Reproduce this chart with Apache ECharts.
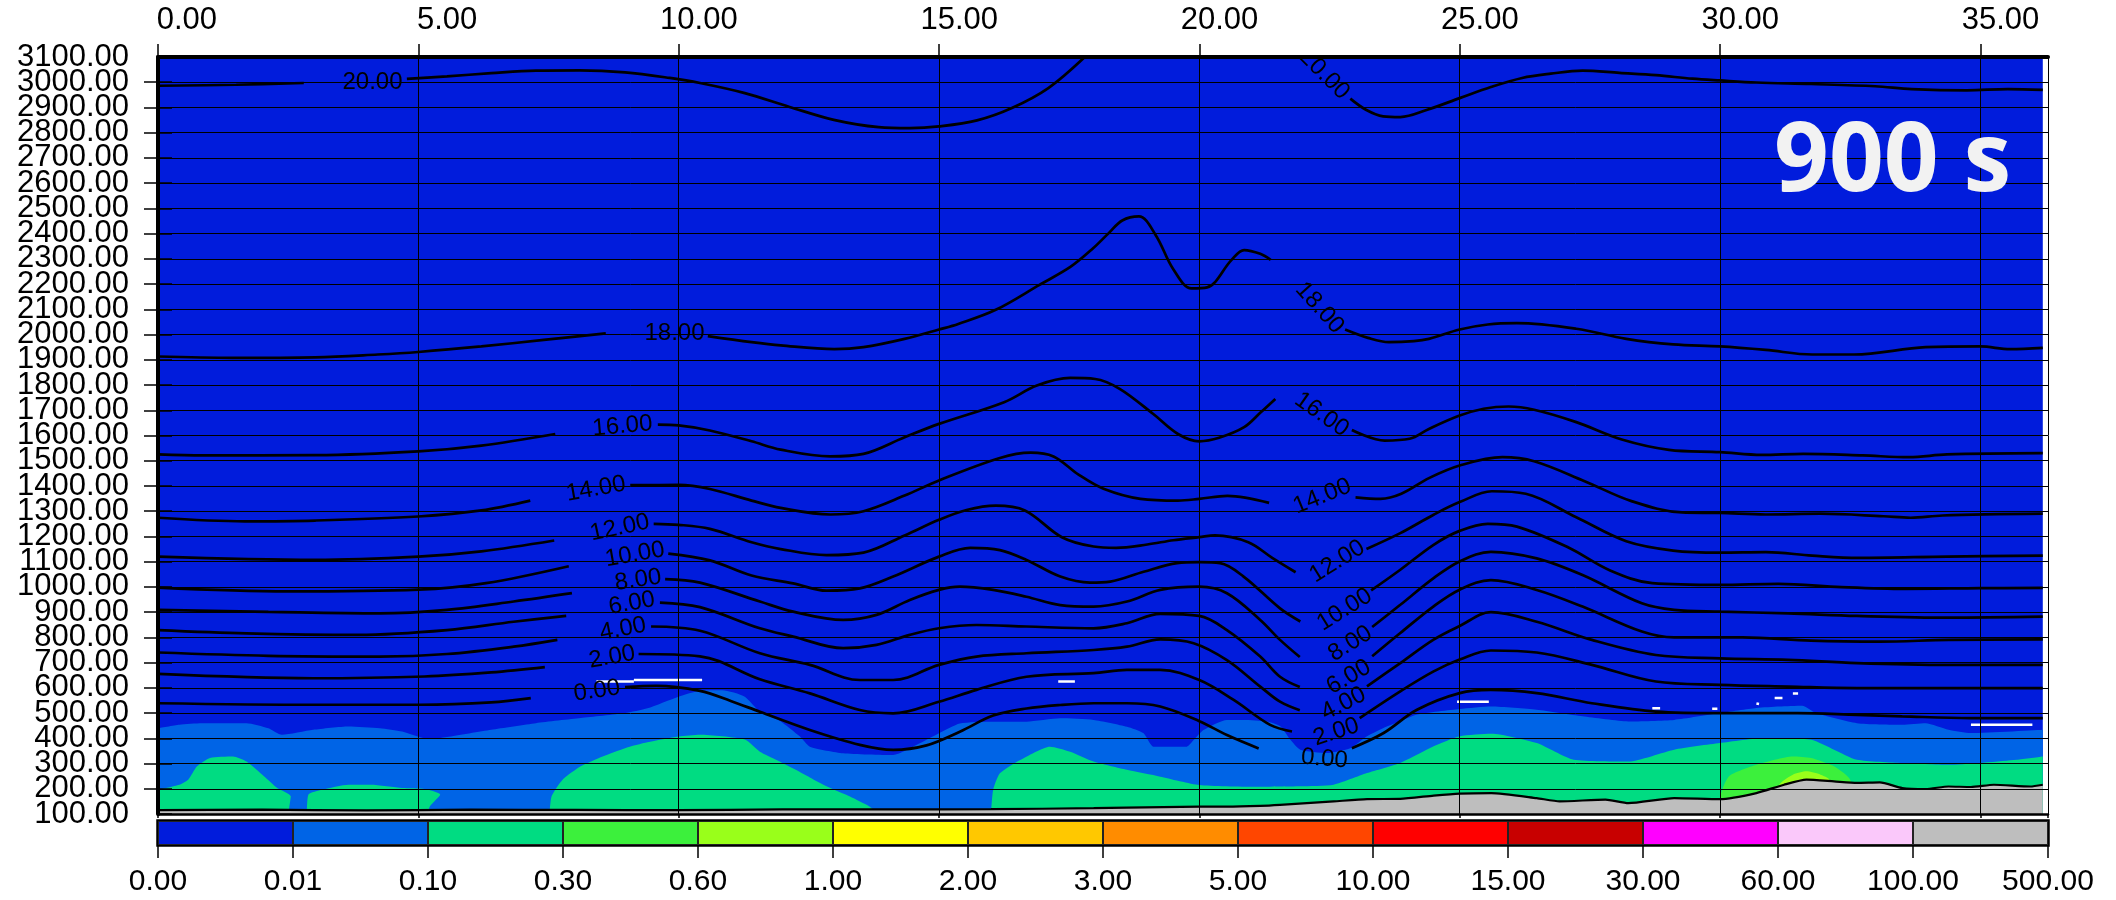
<!DOCTYPE html>
<html><head><meta charset="utf-8">
<script src="https://cdn.jsdelivr.net/npm/echarts@6/dist/echarts.min.js"></script>
<style>html,body{margin:0;padding:0;background:#fff}#c{width:2116px;height:900px}</style>
</head><body><div id="c"></div>
<script>
// ---------- colour bar ----------
const cbColors = ['#011CDC','#0064E6','#00DC82','#3CF03C','#99FF1A','#FFFF00','#FFC800','#FF8C00','#FF4600','#FF0000','#C80000','#FF00FF','#FAC8FA','#BEBEBE'];
const cbLabels = ['0.00','0.01','0.10','0.30','0.60','1.00','2.00','3.00','5.00','10.00','15.00','30.00','60.00','100.00','500.00'];

// ---------- filled bands (upper boundary of each band, filled down to the axis) ----------
const bandBase = [[0,3100],[36.2,3100]];
const bandMedBlue = [[0,440],[0.41,454],[0.84,460],[1.7,460],[2.12,440],[2.38,414],[2.98,434],[3.66,447],[4.26,440],[4.69,427],[5.2,397],[5.55,405],[6.4,434],[7.26,460],[8.12,480],[8.97,500],[9.4,519],[10,565],[10.41,588],[10.84,590],[11.27,565],[11.56,505],[11.94,470],[12.33,407],[12.52,367],[13.16,341],[14.12,334],[14.63,380],[15,420],[15.4,459],[16.04,466],[16.68,466],[17.33,479],[17.97,473],[18.61,446],[18.93,420],[19.12,367],[19.76,367],[19.89,393],[20.08,433],[20.53,473],[20.85,473],[21.3,467],[21.56,447],[21.75,394],[21.94,355],[22.45,342],[22.9,361],[23.22,408],[23.6,447],[23.85,467],[24.18,494],[25,516],[25.61,526],[26.48,513],[27.36,487],[28.24,467],[29.12,473],[30,500],[30.7,520],[31.14,526],[31.58,529],[31.84,500],[32.63,460],[33.5,454],[33.95,460],[34.39,434],[34.82,421],[36.2,434]];
const bandGreen1 = [[0,196],[0.41,216],[0.58,236],[0.75,289],[1.0,322],[1.44,328],[1.7,308],[2.04,249],[2.29,203],[2.55,170],[2.52,124],[2.5,100]];
const bandGreen2 = [[2.86,100],[2.89,177],[3.15,196],[3.66,216],[4.09,216],[4.69,203],[5.12,199],[5.42,177],[5.22,130],[5.18,100]];
const bandGreen3 = [[7.52,100],[7.56,170],[7.77,236],[8.12,289],[8.54,328],[8.97,361],[9.4,384],[10,407],[10.41,414],[11.27,395],[11.56,347],[11.88,314],[12.2,280],[12.52,245],[12.84,210],[13.29,169],[13.67,129],[13.85,100]];
const bandGreen4 = [[16.0,100],[16.04,195],[16.17,261],[16.56,314],[17.13,367],[17.52,347],[17.97,308],[18.61,275],[19.25,248],[20,215],[21.04,208],[21.94,210],[22.58,216],[23.22,262],[23.86,302],[24.5,368],[25,408],[25.61,418],[26.48,381],[27.19,315],[28.24,308],[29.12,355],[30,381],[30.87,401],[31.75,394],[32.19,355],[32.63,315],[33.5,302],[34.39,295],[35.7,315],[36.2,328]];
const bandBright = [[30,100],[30,160],[30.17,249],[30.7,295],[31.4,328],[31.75,322],[32.19,289],[32.5,236],[32.6,100]];
const bandYellowGreen = [[31.1,100],[31.14,216],[31.4,256],[31.66,269],[31.93,256],[32.1,236],[32.12,100]];
const terrain = [[0,115],[2,117],[4,114],[6,117],[8,116],[10,115],[12,118],[14,118],[16,119],[17.97,123],[18.61,125],[20,129],[20.53,129],[21.17,132],[21.55,136],[22.58,150],[23.22,159],[23.86,160],[24.5,173],[25,181],[25.61,183],[26.48,163],[26.92,150],[27.8,157],[28.24,143],[29.12,163],[30,159],[30.7,183],[31.23,216],[31.66,236],[32.19,229],[32.63,223],[33.07,225],[33.5,203],[33.95,199],[34.39,209],[34.82,207],[35.26,216],[35.96,209],[36.2,216]];
const whiteSpecks = [
  [[8.42,625],[9.14,625]], [[9.14,631],[10.45,631]], [[17.29,625],[17.61,625]],
  [[24.95,545],[25.56,545]], [[34.82,454],[36.0,454]], [[28.7,519],[28.85,519]],
  [[29.85,517],[29.95,517]], [[31.05,560],[31.2,560]], [[31.4,578],[31.5,578]], [[30.7,538],[30.75,536]]
];

// ---------- contour lines (pieces separated where labels sit) ----------
const c00 = [
  [[0,539],[2.98,533],[5.03,533],[6.4,542],[7.16,559]],
  [[8.97,603],[9.57,608],[10.41,588],[11.0,548],[11.56,505],[12.52,433],[13.48,374],[14.12,354],[14.76,372],[15.4,426],[16.04,490],[16.68,518],[17.33,532],[17.97,539],[18.61,539],[19.25,526],[20,468],[20.53,413],[21.14,360]],
  [[22.93,361],[23.54,421],[24.18,513],[25,579],[25.6,592],[26.48,579],[27.54,539],[28.77,506],[30,500],[31.49,500],[32.63,493],[33.5,487],[34.82,480],[36.2,480]]
];
const c02 = [
  [[0,655],[2.98,638],[5.12,645],[6.4,661],[7.43,682]],
  [[9.23,734],[10.41,725],[11.56,634],[12.52,578],[13.48,512],[14.12,499],[15,545],[15.72,592],[16.68,644],[17.97,658],[18.61,671],[19.25,671],[20,631],[20.66,552],[21.36,453],[21.78,427]],
  [[23.08,480],[23.86,586],[24.5,665],[25,712],[25.6,748],[26.48,740],[27.54,691],[28.77,625],[30,612],[31.31,605],[32.63,599],[34.39,599],[36.2,599]]
];
const c04 = [
  [[0,740],[2.12,727],[4.26,724],[5.55,734],[6.83,763],[7.67,790]],
  [[9.47,843],[10.41,826],[11.56,737],[12.52,691],[13.48,631],[14.12,631],[15,691],[15.72,724],[16.68,737],[17.97,750],[18.61,763],[19.25,792],[19.89,777],[20.53,710],[21.17,605],[21.55,545],[21.93,511]],
  [[23.22,606],[23.86,698],[24.5,791],[25,845],[25.6,900],[26.48,862],[27.54,790],[28.77,730],[30,717],[31.31,711],[32.63,698],[34.39,691],[36.2,691]]
];
const c06 = [
  [[0,829],[1.7,816],[3.84,810],[5.55,829],[6.83,862],[7.84,885]],
  [[9.64,938],[10.41,920],[11.56,836],[12.2,803],[13.16,757],[13.8,770],[14.44,810],[15,836],[15.72,849],[16.68,843],[17.97,836],[18.61,856],[19.25,893],[20,885],[20.53,829],[21.17,724],[21.55,644],[21.93,603]],
  [[23.32,725],[23.86,817],[24.5,923],[25,989],[25.6,1027],[26.48,988],[27.36,922],[28.5,823],[29.12,800],[30.43,800],[31.75,787],[33.07,783],[34.39,790],[36.2,792]]
];
const c08 = [
  [[0,909],[2.12,901],[4.26,895],[5.55,909],[6.83,942],[7.95,975]],
  [[9.74,1031],[10.41,1017],[11.56,942],[12.2,902],[13.16,869],[13.8,889],[14.44,948],[15,988],[15.4,1001],[16.04,988],[16.68,961],[17.33,928],[17.97,922],[18.61,942],[19.25,988],[20,1001],[20.53,975],[21.17,869],[21.55,790],[21.93,722]],
  [[23.32,841],[23.86,929],[24.5,1035],[25,1101],[25.6,1139],[26.48,1113],[27.36,1047],[28.5,935],[29.12,909],[30,902],[31.31,895],[32.63,885],[34.39,878],[36.2,882]]
];
const c10 = [
  [[0,997],[2.5,982],[5,989],[6.3,1015],[7.89,1082]],
  [[9.8,1132],[10.6,1105],[11.4,1045],[12.2,1014],[12.84,985],[13.48,994],[14.12,1041],[15,1120],[15.6,1155],[16.17,1146],[16.68,1107],[17.33,1041],[17.9,1017],[18.29,1021],[18.93,1060],[19.57,1094],[20,1098],[20.4,1094],[20.85,1041],[21.55,915],[21.94,863]],
  [[23.3,986],[23.86,1068],[24.5,1167],[25,1222],[25.54,1250],[26.1,1239],[27.08,1157],[27.89,1065],[28.7,1015],[30,1008],[31.12,1012],[32.33,999],[33.55,992],[35,995],[36.2,996]]
];
const c12 = [
  [[0,1120],[3.02,1107],[5,1120],[6.21,1141],[7.61,1184]],
  [[9.52,1250],[10,1246],[10.6,1230],[11.4,1177],[11.96,1150],[12.84,1126],[13.55,1136],[14.34,1204],[15,1266],[15.53,1305],[16.09,1322],[16.65,1303],[17.36,1197],[17.97,1160],[18.4,1155],[19,1168],[19.5,1185],[20,1197],[20.3,1204],[20.94,1177],[21.4,1115],[21.85,1058]],
  [[23.21,1150],[23.86,1213],[24.5,1286],[25,1336],[25.62,1379],[26.27,1369],[27.24,1276],[28.2,1181],[29.1,1144],[30,1136],[30.88,1138],[31.77,1124],[32.66,1115],[34.36,1120],[36.2,1124]]
];
const c14 = [
  [[0,1274],[1.67,1260],[3.02,1263],[5,1279],[6.21,1303],[7.15,1342]],
  [[9.07,1403],[10,1404],[10.6,1388],[11.4,1342],[11.96,1313],[12.91,1287],[13.55,1300],[14.34,1362],[15,1422],[16.17,1511],[16.76,1532],[17.2,1517],[17.68,1445],[18.16,1389],[18.87,1349],[19.59,1342],[20,1349],[20.54,1361],[21.34,1333]],
  [[23,1355],[23.48,1349],[23.88,1369],[24.41,1431],[25,1481],[25.82,1514],[26.43,1498],[27.4,1419],[28.3,1340],[29.27,1295],[30,1293],[30.88,1287],[31.93,1290],[33.14,1280],[33.66,1274],[34.27,1283],[36.2,1290]]
];
const c16 = [
  [[0,1525],[0.87,1521],[3.02,1522],[5,1537],[6.21,1560],[7.63,1606]],
  [[9.6,1643],[10,1640],[10.6,1620],[11.4,1577],[11.96,1544],[12.91,1517],[13.55,1527],[14.34,1593],[15,1646],[16.25,1732],[16.88,1798],[17.52,1828],[18,1824],[18.47,1785],[19.11,1686],[19.59,1606],[20,1577],[20.38,1591],[20.86,1633],[21.18,1692],[21.46,1745]],
  [[22.93,1622],[23.56,1580],[24.04,1587],[24.41,1626],[25,1679],[25.46,1706],[25.94,1715],[26.43,1702],[27.24,1653],[28.13,1583],[29.02,1543],[30,1534],[30.8,1523],[31.6,1527],[32.74,1521],[33.63,1514],[34.36,1525],[36.2,1530]]
];
const c18 = [
  [[0,1913],[1.43,1908],[3.02,1910],[4.22,1921],[5,1931],[6.21,1953],[7.41,1979],[8.6,2005]],
  [[10.56,1994],[11.4,1970],[11.96,1957],[12.99,1942],[13.55,1950],[14.34,1983],[15,2020],[15.37,2042],[16.09,2098],[16.93,2197],[17.53,2269],[17.96,2342],[18.26,2402],[18.52,2452],[18.84,2468],[19.16,2395],[19.5,2259],[19.85,2183],[20.15,2187],[20.62,2296],[20.86,2335],[21.17,2320],[21.37,2296]],
  [[22.8,2020],[23.24,1987],[23.64,1970],[24.12,1974],[24.41,1983],[25,2020],[25.54,2040],[26.1,2045],[27.24,2023],[28.2,1983],[29.1,1961],[30,1953],[30.88,1939],[31.77,1921],[32.58,1921],[33.95,1950],[35,1953],[35.57,1942],[36.2,1947]]
];
const c20 = [
  [[0,2986],[1.5,2990],[2.8,2997]],
  [[4.78,3013],[5.55,3023],[6.4,3036],[7.26,3046],[8.1,3047],[8.97,3039],[9.83,3017],[10.41,2997],[11.27,2957],[12.13,2902],[12.98,2851],[13.84,2822],[14.44,2818],[15,2825],[15.73,2849],[16.4,2898],[17.1,2977],[17.8,3100]],
  [[22.9,2935],[23.2,2891],[23.53,2865],[23.86,2862],[24.38,2891],[25,2937],[25.6,2981],[26.2,3017],[26.75,3034],[27.36,3046],[28.07,3037],[28.77,3028],[29.47,3014],[30,3007],[30.7,2999],[31.75,2993],[32.98,2984],[33.68,2973],[34.74,2968],[35.53,2973],[36.2,2970]]
];

// ---------- contour labels ----------
const labelText = ['0.00','2.00','4.00','6.00','8.00','10.00','12.00','14.00','16.00','18.00','20.00',
                   '0.00','2.00','4.00','6.00','8.00','10.00','12.00','14.00','16.00','18.00','20.00'];
const labelXY = [[8.43,588],[8.72,722],[8.93,833],[9.1,935],[9.22,1027],[9.16,1128],[8.87,1234],[8.41,1388],[8.92,1637],[9.92,2005],[4.12,3000],
                 [22.4,318],[22.63,425],[22.77,537],[22.87,643],[22.9,775],[22.79,910],[22.65,1101],[22.36,1359],[22.35,1683],[22.31,2106],[22.4,3031]];
const labelRot = [8,10,11,10,8,10,12,10,5,0,0,
                  -5,18,27,30,32,32,32,22,-35,-48,-45];
// y-axis end ticks whose labels sit on a separate overlay axis
const yEndLabels = [100, 3100];

// ---------- build ----------
const chart = echarts.init(document.getElementById('c'));
const FONT = 'Liberation Sans';
const series = [];
function area(data, color, z, smooth) {
  series.push({type:'line', data, symbol:'none', smooth: smooth, z, silent:true,
    lineStyle:{width:0, opacity:0}, areaStyle:{color, opacity:1, origin:'start'}});
}
area(bandBase, cbColors[0], 1, false);
area(bandMedBlue, cbColors[1], 1, 0.2);
[bandGreen1, bandGreen2, bandGreen3, bandGreen4].forEach(d => area(d, cbColors[2], 1, 0.2));
area(bandBright, cbColors[3], 1, 0.2);
area(bandYellowGreen, cbColors[4], 1, 0.2);
area(terrain, cbColors[13], 1, 0.2);
series.push({type:'line', data:terrain, symbol:'none', smooth:0.2, z:4, silent:true, lineStyle:{color:'#000', width:2.2}});
whiteSpecks.forEach(d => series.push({type:'line', data:d, symbol:'none', z:2, silent:true, lineStyle:{color:'#fff', width:2.5}}));
[c00,c02,c04,c06,c08,c10,c12,c14,c16,c18,c20].forEach(pieces => pieces.forEach(p =>
  series.push({type:'line', data:p, symbol:'none', smooth:0.35, z:4, silent:true, lineStyle:{color:'#000', width:2.7}})));
series.push({
  type:'custom', data: labelXY, clip:true, z:5, silent:true,
  renderItem: (params, api) => {
    const i = params.dataIndex;
    const p = api.coord([api.value(0), api.value(1)]);
    return {type:'text', x:p[0], y:p[1], rotation: labelRot[i]*Math.PI/180,
      style:{text: labelText[i], fill:'#000', font:'24px "Liberation Sans"', align:'center', verticalAlign:'middle'}};
  }
});
series.push({
  type:'bar', xAxisIndex:2, yAxisIndex:2, barWidth:'100%', barCategoryGap:'0%', silent:true,
  data: cbColors.map(c => ({value:1, itemStyle:{color:c, borderColor:'#222', borderWidth:1}}))
});

const axisText = {fontFamily: FONT, fontSize: 31, color:'#000'};
chart.setOption({
  animation:false,
  backgroundColor:'#fff',
  title:{text:'900 s', left:1774, top:116, padding:0, z:10,
    textStyle:{color:'#F2F2F2', fontSize:96, fontWeight:'bold', fontFamily:'Open Sans'}},
  grid:[
    {left:158, top:57, width:1890, height:757},
    {left:158, top:821, width:1890, height:24, show:true, borderColor:'#000', borderWidth:3.5, backgroundColor:'transparent'}
  ],
  xAxis:[
    {gridIndex:0, type:'value', position:'top', min:0, max:36.3, interval:5, z:3,
      axisLine:{lineStyle:{color:'#000', width:4}},
      axisTick:{length:13, lineStyle:{color:'#000', width:1.5}},
      axisLabel:Object.assign({margin:21, align:'right', padding:[0,-59,0,0], showMinLabel:true, formatter: v => v.toFixed(2)}, axisText),
      splitLine:{show:true, lineStyle:{color:'#000', width:1}}},
    {gridIndex:0, type:'value', position:'bottom', min:0, max:36.3, interval:5, z:3,
      axisLine:{lineStyle:{color:'#000', width:2.5}},
      axisTick:{length:4, lineStyle:{color:'#000', width:1.5}},
      axisLabel:{show:false}, splitLine:{show:false}},
    {gridIndex:1, type:'category', data: cbColors.map((c,i)=>cbLabels[i]), show:false},
    {gridIndex:1, type:'value', position:'bottom', min:0, max:14, interval:1,
      axisLine:{show:false},
      axisTick:{length:13, lineStyle:{color:'#000', width:1.5}},
      axisLabel:Object.assign({margin:22, showMinLabel:true, showMaxLabel:true, formatter: v => cbLabels[v]}, axisText, {fontSize:30}),
      splitLine:{show:false}}
  ],
  yAxis:[
    {gridIndex:0, type:'value', position:'left', min:100, max:3100, interval:100, z:3,
      axisLine:{show:true, lineStyle:{color:'#000', width:4}},
      axisTick:{show:true, length:14, lineStyle:{color:'#000', width:1.5}},
      axisLabel:Object.assign({margin:29, showMinLabel:false, showMaxLabel:false, formatter: v => v.toFixed(2)}, axisText),
      splitLine:{show:true, lineStyle:{color:'#000', width:1}}},
    {gridIndex:0, type:'value', position:'right', min:100, max:3100, interval:100, z:3,
      axisLine:{show:true, lineStyle:{color:'#000', width:3}},
      axisTick:{show:true, length:14, lineStyle:{color:'#000', width:1.5}},
      axisLabel:{show:false}, splitLine:{show:false}},
    {gridIndex:1, type:'value', min:0, max:1, show:false},
    {gridIndex:0, type:'value', position:'left', min:100, max:3100, interval:100, z:3,
      axisLine:{show:false}, axisTick:{show:false}, splitLine:{show:false},
      axisLabel:Object.assign({margin:29, showMinLabel:true, showMaxLabel:true,
        formatter: v => yEndLabels.includes(v) ? v.toFixed(2) : ''}, axisText)}
  ],
  series: series.map(s => Object.assign({animation:false}, s, s.type==='bar' ? {} : {xAxisIndex:0, yAxisIndex:0}))
});
</script></body></html>
